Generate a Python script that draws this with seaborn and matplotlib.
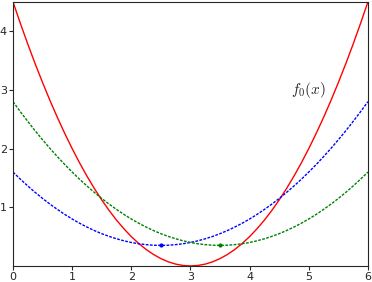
import matplotlib
matplotlib.use('Agg')
import matplotlib.pyplot as plt
import seaborn as sns
import pandas as pd

x = [0, 0.125, 0.25, 0.375, 0.5, 0.625, 0.75, 0.875, 1, 1.125, 1.25, 1.375,
     1.5, 1.625, 1.75, 1.875, 2, 2.125, 2.25, 2.375, 2.5, 2.625, 2.75, 2.875,
     3, 3.125, 3.25, 3.375, 3.5, 3.625, 3.75, 3.875, 4, 4.125, 4.25, 4.375,
     4.5, 4.625, 4.75, 4.875, 5, 5.125, 5.25, 5.375, 5.5, 5.625, 5.75, 5.875, 6]
f0 = [4.5, 4.133, 3.781, 3.445, 3.125, 2.82, 2.531, 2.258, 2.0, 1.758, 1.531, 1.32,
      1.125, 0.945, 0.781, 0.633, 0.5, 0.383, 0.281, 0.195, 0.125, 0.07, 0.031, 0.008,
      0.0, 0.008, 0.031, 0.07, 0.125, 0.195, 0.281, 0.383, 0.5, 0.633, 0.781, 0.945,
      1.125, 1.32, 1.531, 1.758, 2.0, 2.258, 2.531, 2.82, 3.125, 3.445, 3.781, 4.133, 4.5]
f_blue = [1.6, 1.478, 1.363, 1.253, 1.15, 1.053, 0.963, 0.878, 0.8, 0.728, 0.663, 0.603,
          0.55, 0.503, 0.463, 0.428, 0.4, 0.378, 0.363, 0.353, 0.35, 0.353, 0.363, 0.378,
          0.4, 0.428, 0.463, 0.503, 0.55, 0.603, 0.663, 0.728, 0.8, 0.878, 0.963, 1.053,
          1.15, 1.253, 1.363, 1.478, 1.6, 1.728, 1.863, 2.003, 2.15, 2.303, 2.463, 2.628, 2.8]
f_green = [2.8, 2.628, 2.463, 2.303, 2.15, 2.003, 1.863, 1.728, 1.6, 1.478, 1.363, 1.253,
           1.15, 1.053, 0.963, 0.878, 0.8, 0.728, 0.663, 0.603, 0.55, 0.503, 0.463, 0.428,
           0.4, 0.378, 0.363, 0.353, 0.35, 0.353, 0.363, 0.378, 0.4, 0.428, 0.463, 0.503,
           0.55, 0.603, 0.663, 0.728, 0.8, 0.878, 0.963, 1.053, 1.15, 1.253, 1.363, 1.478, 1.6]
min_x = [2.5, 3.5]
min_y = [0.35, 0.35]

sns.set_style('ticks')
plt.rcParams['mathtext.fontset'] = 'cm'

df = pd.DataFrame({'x': x, 'f0': f0, 'blue': f_blue, 'green': f_green})

fig = plt.figure(figsize=(3.72, 2.82), dpi=100)
ax = fig.add_axes([0.035, 0.057, 0.954, 0.936])

sns.lineplot(data=df, x='x', y='f0', color='red', linewidth=1.0, ax=ax)
sns.lineplot(data=df, x='x', y='blue', color='blue', linewidth=1.0,
             linestyle=(0, (2, 1)), ax=ax)
sns.lineplot(data=df, x='x', y='green', color='green', linewidth=1.0,
             linestyle=(0, (2, 1)), ax=ax)
ax.plot(min_x[0], min_y[0], 'o', color='blue', markersize=2)
ax.plot(min_x[1], min_y[1], 'o', color='green', markersize=2)

ax.text(5.0, 3.0, r'$f_0(x)$', fontsize=11, ha='center', va='center')

ax.set_xlim(0, 6)
ax.set_ylim(0, 4.5)
ax.set_yticks([1, 2, 3, 4])
ax.set_xticks([0, 1, 2, 3, 4, 5, 6])
ax.tick_params(labelsize=8, length=3, width=0.8, pad=1.5)
ax.set_xlabel('')
ax.set_ylabel('')

fig.savefig('out.png', dpi=100)
